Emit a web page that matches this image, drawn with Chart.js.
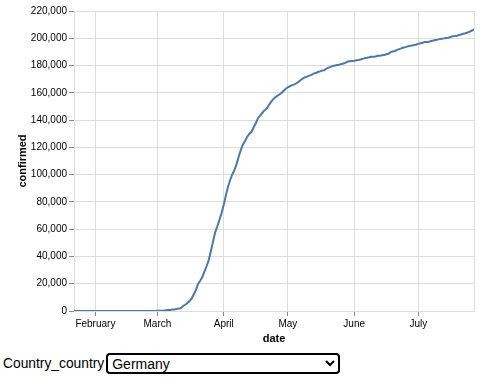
<!DOCTYPE html>
<html>
<head>
<meta charset="utf-8">
<script src="https://cdn.jsdelivr.net/npm/chart.js@4.4.0/dist/chart.umd.min.js"></script>
<style>
  body { margin: 0; font-family: "Liberation Sans", Arial, sans-serif; background: #fff; }
  #wrap { width: 486px; height: 346px; }
  .bind { position: absolute; left: 3px; top: 353px; display: flex; align-items: center; font-size: 13.8px; }
  .bind select {
    margin-left: 2px; width: 234px; height: 21px; font-size: 14px;
    font-family: "Liberation Sans", Arial, sans-serif;
    border: 2px solid #000; border-radius: 4px; background: #fff; padding: 0;
  }
</style>
</head>
<body>
<div id="wrap"><canvas id="chart" width="486" height="346"></canvas></div>
<div class="bind"><span>Country_country</span>
  <select><option>Germany</option><option>Italy</option><option>Spain</option><option>France</option></select>
</div>
<script>
// first day = 2020-01-22, one value per day until 2020-07-27
const startDate = "2020-01-22";
const confirmed = [
  0, 0, 0, 0, 0, 1, 4, 4, 4, 5,
  8, 10, 12, 12, 12, 12, 13, 13, 14, 14, 16, 16, 16, 16, 16, 16, 16, 16, 16, 16,
  16, 16, 16, 16, 17, 27, 46, 48, 79,
  130, 159, 196, 262, 482, 670, 799, 1040, 1176, 1457, 1908, 2078, 3675, 4585, 5795,
  7272, 9257, 12327, 15320, 19848, 22213, 24873, 29056, 32986, 37323, 43938, 50871,
  57695, 62095, 66885, 71808,
  77872, 84794, 91159, 96092, 100123, 103374, 107663, 113296, 118181, 122171, 124908,
  127854, 130072, 131359, 134753, 137698, 141397, 143342, 145184, 147065, 148291,
  150648, 153129, 154999, 156513, 157770, 158758, 159912, 161539, 163009,
  164077, 164967, 165664, 166152, 167007, 168162, 169430, 170588, 171324, 171879,
  172576, 173171, 174098, 174478, 175233, 175752, 176369, 176551, 177778, 178473,
  179021, 179710, 179986, 180328, 180600, 181200, 181524, 182196, 182922, 183189, 183410,
  183594, 183879, 184121, 184472, 184924, 185450, 185750, 186109, 186506, 186522,
  186691, 187226, 187267, 187518, 187682, 188252, 188604, 189817, 190299, 190670,
  191449, 192079, 192556, 193243, 193499, 194036, 194458, 194693, 195042, 195438,
  195893, 196370, 196780, 197198, 197341, 197523, 198064, 198343, 198699, 199001,
  199375, 199709, 199919, 200180, 200456, 200890, 201450, 201574, 201823, 202345,
  202799, 203325, 203717, 204276, 204881, 205700, 206600
];
const monthTicks = [10, 39, 70, 100, 131, 161];   // day index of the 1st of each month
const monthLabels = ["February", "March", "April", "May", "June", "July"];
const yTicks = [0, 20000, 40000, 60000, 80000, 100000, 120000, 140000, 160000, 180000, 200000, 220000];

const points = confirmed.map((v, i) => ({ x: i, y: v }));
const font = "'Liberation Sans', Arial, sans-serif";

// light frame around the plot, like the vega view stroke
const frame = {
  id: "frame",
  beforeDatasetsDraw(chart) {
    const a = chart.chartArea, ctx = chart.ctx;
    ctx.save();
    ctx.strokeStyle = "#ddd";
    ctx.lineWidth = 1;
    ctx.strokeRect(a.left + 0.5, a.top + 0.5, a.right - a.left, a.bottom - a.top);
    ctx.restore();
  }
};

new Chart(document.getElementById("chart"), {
  type: "line",
  data: {
    datasets: [{
      data: points,
      borderColor: "#4c78a8",
      borderWidth: 2,
      pointRadius: 0,
      tension: 0,
      fill: false
    }]
  },
  options: {
    responsive: false,
    animation: false,
    layout: { padding: { top: 11, right: 12, left: 0, bottom: 0 } },
    plugins: { legend: { display: false }, tooltip: { enabled: false } },
    scales: {
      x: {
        type: "linear",
        min: 0,
        max: confirmed.length - 1,
        afterBuildTicks(scale) { scale.ticks = monthTicks.map(v => ({ value: v })); },
        afterFit(scale) { scale.height = 35; },
        ticks: {
          autoSkip: false, maxRotation: 0, padding: 2, color: "#000",
          font: { family: font, size: 10 },
          callback: (v) => monthLabels[monthTicks.indexOf(v)]
        },
        grid: { color: "#ddd", tickColor: "#888", tickLength: 5 },
        border: { color: "#888" },
        title: { display: true, text: "date", color: "#000", padding: { top: 1, bottom: 0 },
          font: { family: font, size: 11, weight: "bold" } }
      },
      y: {
        min: 0,
        max: 220000,
        afterBuildTicks(scale) { scale.ticks = yTicks.map(v => ({ value: v })); },
        afterFit(scale) { scale.width = 74; },
        ticks: {
          padding: 2, color: "#000",
          font: { family: font, size: 10 },
          callback: (v) => v.toLocaleString("en-US")
        },
        grid: { color: "#ddd", tickColor: "#888", tickLength: 5 },
        border: { color: "#888" },
        title: { display: true, text: "confirmed", color: "#000", padding: { top: 16, bottom: 0 },
          font: { family: font, size: 11, weight: "bold" } }
      }
    }
  },
  plugins: [frame]
});
</script>
</body>
</html>
